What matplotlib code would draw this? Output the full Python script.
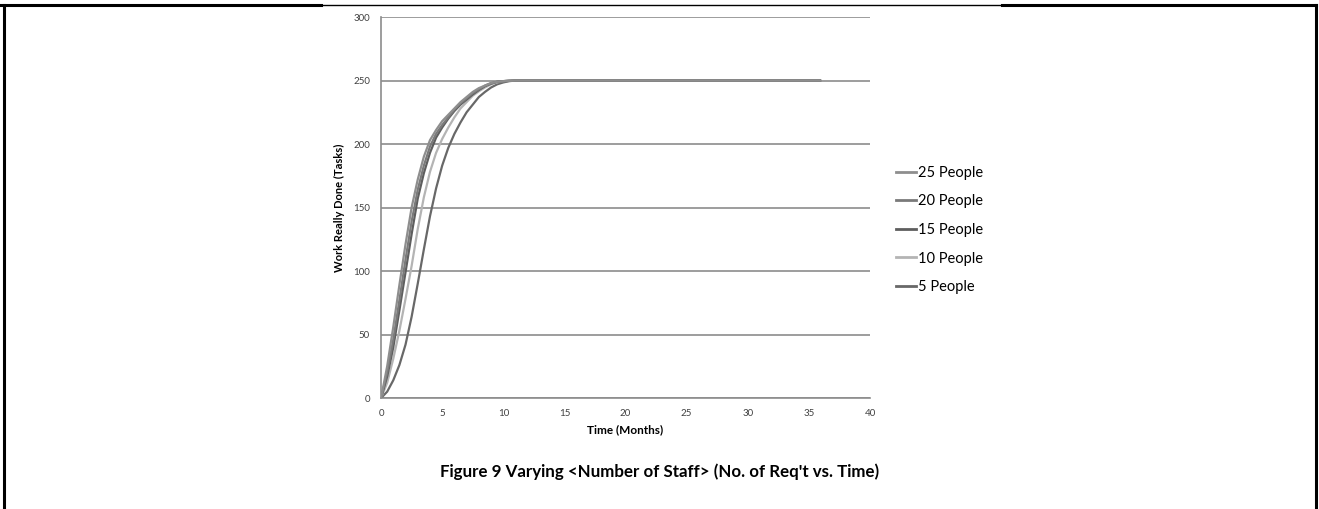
import numpy as np
import matplotlib
matplotlib.use("Agg")
import matplotlib.pyplot as plt
from matplotlib.lines import Line2D

plt.rcParams['font.family'] = ['Lato', 'DejaVu Sans']

# time in months
time = [0, 0.5, 1, 1.5, 2, 2.5, 3, 3.5, 4, 4.5, 5, 5.5, 6, 6.5, 7, 7.5,
        8, 8.5, 9, 9.5, 10, 10.5, 11, 12, 24, 36]

people_25 = [0, 25, 56, 89, 121, 150, 172, 190, 203, 211, 218, 223, 228, 233,
             237, 241, 244, 246, 248, 249, 249.5, 249.8, 250, 250, 250, 250]
people_20 = [0, 20, 46, 77, 109, 139, 164, 183, 198, 208, 215, 221, 227, 232,
             236, 240, 243, 246, 248, 249, 249.5, 249.8, 250, 250, 250, 250]
people_15 = [0, 17, 40, 69, 99, 129, 157, 177, 193, 205, 213, 220, 226, 231,
             235, 239, 242.5, 245.5, 247.5, 249, 249.5, 249.8, 250, 250, 250, 250]
people_10 = [0, 12, 31, 53, 78, 104, 133, 158, 178, 193, 204, 213, 221, 228,
             233, 238, 241.5, 244.5, 247, 248.5, 249.5, 249.8, 250, 250, 250, 250]
people_5 = [0, 5, 14, 26, 42, 64, 90, 117, 143, 165, 183, 197, 208, 217,
            225, 231, 237, 241, 244.5, 247, 248.5, 249.5, 250, 250, 250, 250]

series = [("25 People", people_25, "#8e8e8e"),
          ("20 People", people_20, "#7a7a7a"),
          ("15 People", people_15, "#5e5e5e"),
          ("10 People", people_10, "#b4b4b4"),
          ("5 People", people_5, "#686868")]

fig = plt.figure(figsize=(13.19, 5.09), dpi=100)
ax = fig.add_axes([0.2889, 0.218, 0.3707, 0.7486])

grid_col = "#8c8c8c"
# draw in reverse so the first series ends up on top
for name, vals, col in series[::-1]:
    ax.plot(time, vals, color=col, lw=1.6, solid_capstyle='butt', zorder=3)

ax.set_xlim(0, 40)
ax.set_ylim(0, 300)
ax.set_xticks(np.arange(0, 41, 5))
ax.set_yticks(np.arange(0, 301, 50))
ax.yaxis.grid(True, color=grid_col, lw=1.2)
ax.set_axisbelow(True)
for s in ['top', 'right']:
    ax.spines[s].set_visible(False)
for s in ['left', 'bottom']:
    ax.spines[s].set_color(grid_col)
    ax.spines[s].set_linewidth(1.2)
ax.tick_params(length=0, labelsize=7, colors="#404040", pad=8)
ax.set_xlabel("Time (Months)", fontsize=8.5, fontweight='bold', labelpad=4)
ax.set_ylabel("Work Really Done (Tasks)", fontsize=8, fontweight='bold', labelpad=6)

handles = [Line2D([], [], color=col, lw=2) for _, _, col in series]
fig.legend(handles, [n for n, _, _ in series], loc='upper left',
           bbox_to_anchor=(0.669, 0.70), frameon=False, fontsize=10.5,
           handlelength=1.4, handletextpad=0.15, labelspacing=1.0)

fig.text(0.5, 0.074, "Figure 9 Varying <Number of Staff> (No. of Req't vs. Time)",
         ha='center', va='center', fontsize=12.2, fontweight='bold')

# page table border
fig.add_artist(Line2D([0.003, 0.003], [0, 0.991], color='black', lw=2.2,
                      transform=fig.transFigure))
fig.add_artist(Line2D([0.998, 0.998], [0, 0.991], color='black', lw=2.2,
                      transform=fig.transFigure))
fig.add_artist(Line2D([0, 0.243], [0.991, 0.991], color='black', lw=2.2,
                      transform=fig.transFigure))
fig.add_artist(Line2D([0.243, 0.760], [0.990, 0.990], color='black', lw=1.0,
                      transform=fig.transFigure))
fig.add_artist(Line2D([0.760, 0.998], [0.991, 0.991], color='black', lw=2.2,
                      transform=fig.transFigure))

fig.savefig("out.png", dpi=100)
